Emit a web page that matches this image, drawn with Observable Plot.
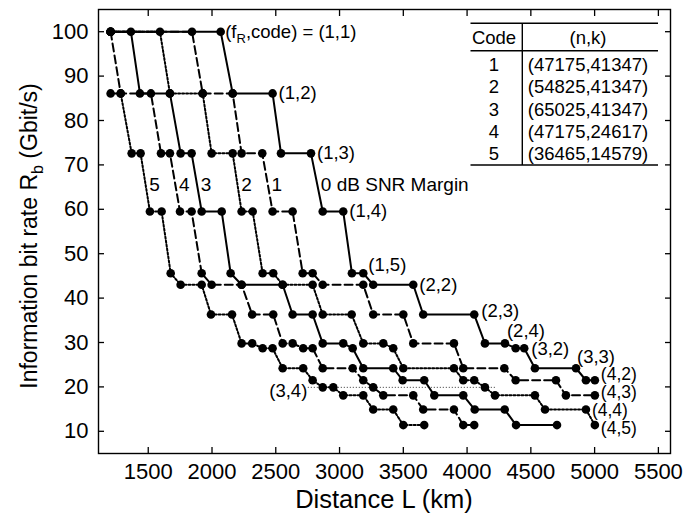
<!DOCTYPE html>
<html>
<head>
<meta charset="utf-8">
<script src="https://cdn.jsdelivr.net/npm/d3@7"></script>
<script src="https://cdn.jsdelivr.net/npm/@observablehq/plot@0.6"></script>
<style>
html,body{margin:0;padding:0;background:#fff;}
#chart svg{display:block;}
</style>
</head>
<body>
<div id="chart"></div>
<script>
// Configuration levels (f_R, code) and their information bit rate (Gbit/s)
const levelNames = ["(1,1)","(1,2)","(1,3)","(1,4)","(1,5)","(2,2)","(2,3)","(2,4)","(3,2)","(3,3)","(4,2)","(3,4)","(4,3)","(4,4)","(4,5)"];
const levelRates = [100, 86.1, 72.6, 59.5, 45.6, 43.0, 36.3, 29.8, 28.7, 24.2, 21.5, 19.9, 18.1, 14.9, 11.4];

// Each step: [level index, first distance (km), last distance (km)]
const margin0dB = [[0,1205,2068],[1,2162,2475],[2,2541,2776],[3,2868,3029],[4,3097,3186],[5,3264,3578],[6,3656,4056],[7,4140,4297],[8,4381,4448],[9,4532,4854],[10,4932,5002]];
const margin1dB = [[0,1205,1843],[1,1927,2162],[2,2232,2394],[3,2475,2632],[4,2711,2789],[5,2868,3186],[6,3264,3500],[7,3578,3897],[9,3970,4292],[10,4381,4697],[12,4775,5002]];
const margin2dB = [[0,1205,1592],[1,1670,1927],[2,1997,2162],[3,2232,2319],[4,2397,2480],[5,2554,2789],[6,2868,3095],[7,3186,3343],[8,3421,3421],[9,3500,3897],[10,3970,4056],[11,4140,4140],[12,4219,4532],[13,4611,4932],[14,5002,5002]];
const margin3dB = [[0,1205,1364],[1,1435,1670],[2,1754,1840],[3,1919,2076],[4,2146,2146],[5,2232,2554],[6,2632,2789],[7,2868,3029],[8,3103,3103],[9,3186,3421],[10,3495,3664],[12,3743,3970],[13,4060,4295],[14,4384,4705]];
const margin4dB = [[0,1205,1205],[1,1284,1521],[2,1600,1670],[3,1749,1840],[4,1919,1919],[5,1997,2232],[6,2315,2480],[7,2554,2632],[8,2715,2789],[9,2868,3103],[10,3186,3186],[11,3264,3264],[12,3343,3578],[13,3656,3897],[14,3970,4056]];
const margin5dB = [[1,1205,1284],[2,1370,1440],[3,1513,1605],[4,1676,1676],[5,1754,1919],[6,1992,2157],[7,2232,2315],[8,2397,2475],[9,2554,2715],[10,2789,2789],[11,2868,2951],[12,3029,3186],[13,3264,3421],[14,3500,3664]];

const marginCurves = [margin0dB, margin1dB, margin2dB, margin3dB, margin4dB, margin5dB];
const marginNames = ["0 dB SNR Margin","1","2","3","4","5"];
const marginStyles = ["solid","dashed","dotted","solid","dashed","dotted"];

// (3,4) reference leader (km range)
const leader34Km = [2755, 4232];

const xTicks = [1500,2000,2500,3000,3500,4000,4500,5000,5500];
const yTicks = [10,20,30,40,50,60,70,80,90,100];

const tableCodes = ["1","2","3","4","5"];
const tableNK = ["(47175,41347)","(54825,41347)","(65025,41347)","(47175,24617)","(36465,14579)"];

// ---- build point table
const pts = [];
marginCurves.forEach((steps, c) => {
  steps.forEach(([lev, a, b]) => {
    pts.push({curve: c, style: marginStyles[c], km: a, rate: levelRates[lev]});
    if (b !== a) pts.push({curve: c, style: marginStyles[c], km: b, rate: levelRates[lev]});
  });
});

const marginLabelPts = marginCurves.map((steps, c) => {
  const s2 = steps.find(s => s[0] === 2), s3 = steps.find(s => s[0] === 3);
  return {t: marginNames[c], km: (s2[2] + s3[1]) / 2, rate: (levelRates[2] + levelRates[3]) / 2};
});

function endOf(steps, lev) {
  const s = steps.find(s => s[0] === lev);
  return {t: levelNames[lev], km: s[2], rate: levelRates[lev]};
}
function lab(d, dx, dy, anchor = "start", size = 18.5) {
  return Plot.text([d], {x: "km", y: "rate", text: "t", dx, dy, textAnchor: anchor, fontSize: size, fill: "black"});
}

const FONT = "'Liberation Sans', Arial, Helvetica, sans-serif";
const fmt = d => String(d);

const plot = Plot.plot({
  width: 695,
  height: 514,
  marginLeft: 98,
  marginRight: 25,
  marginTop: 9,
  marginBottom: 61,
  x: {domain: [1110, 5595]},
  y: {domain: [5, 105]},
  style: {fontFamily: FONT, fontSize: "19px", background: "white", color: "black"},
  marks: [
    Plot.ruleY([levelRates[11]], {x1: leader34Km[0], x2: leader34Km[1], stroke: "#333", strokeWidth: 1, strokeDasharray: "1,2"}),
    Plot.line(pts.filter(d => d.style === "dotted"), {x: "km", y: "rate", z: "curve", stroke: "black", strokeWidth: 2, strokeDasharray: "2,2"}),
    Plot.line(pts.filter(d => d.style === "dashed"), {x: "km", y: "rate", z: "curve", stroke: "black", strokeWidth: 2, strokeDasharray: "8,4"}),
    Plot.line(pts.filter(d => d.style === "solid"), {x: "km", y: "rate", z: "curve", stroke: "black", strokeWidth: 2}),
    Plot.dot(pts, {x: "km", y: "rate", r: 4.3, fill: "black", stroke: "none"}),
    Plot.frame({stroke: "black", strokeWidth: 1.4}),
    Plot.axisX({ticks: xTicks, anchor: "bottom", tickSize: -6, strokeWidth: 1.3, fill: "none", label: null}),
    Plot.axisX({ticks: xTicks, anchor: "top", tickSize: -6, strokeWidth: 1.3, fill: "none", label: null}),
    Plot.axisX({ticks: xTicks, anchor: "bottom", tickSize: 0, tickPadding: 10, stroke: "none", fontSize: 22, tickFormat: fmt, label: null}),
    Plot.axisY({ticks: yTicks, anchor: "left", tickSize: -6, strokeWidth: 1.3, fill: "none", label: null}),
    Plot.axisY({ticks: yTicks, anchor: "right", tickSize: -6, strokeWidth: 1.3, fill: "none", label: null}),
    Plot.axisY({ticks: yTicks, anchor: "left", tickSize: 0, tickPadding: 10, stroke: "none", fontSize: 22, tickFormat: fmt, label: null}),
    // margin labels
    Plot.text(marginLabelPts, {x: "km", y: "rate", text: "t", dx: 4, dy: 2, textAnchor: "start", fontSize: 19, fill: "black"}),
    // configuration labels
    lab(endOf(margin0dB, 1), 6, 0),
    lab(endOf(margin0dB, 2), 6, 0),
    lab(endOf(margin0dB, 3), 6, 0),
    lab(endOf(margin0dB, 4), 5, -8),
    lab(endOf(margin0dB, 5), 6, 0),
    lab(endOf(margin0dB, 6), 7, -3),
    lab(endOf(margin0dB, 7), 2, -12),
    lab(endOf(margin0dB, 8), 7, 1),
    lab(endOf(margin0dB, 9), 1, -11),
    lab(endOf(margin0dB, 10), 6, -6, "start", 17.5),
    lab(endOf(margin1dB, 12), 6, -3, "start", 17.5),
    lab(endOf(margin2dB, 13), 6, 1, "start", 17.5),
    lab(endOf(margin2dB, 14), 6, 3, "start", 17.5),
    lab({t: levelNames[11], km: leader34Km[0], rate: levelRates[11]}, -1, 4, "end")
  ]
});

document.getElementById("chart").appendChild(plot);

// ---- extra text that needs subscripts, axis titles and the code table
const svg = d3.select(plot);
const xs = plot.scale("x"), ys = plot.scale("y");

// (f_R,code) = (1,1)
const first = margin0dB[0];
const t11 = svg.append("text")
  .attr("x", xs.apply(first[2]) + 5)
  .attr("y", ys.apply(levelRates[first[0]]))
  .attr("dy", "0.35em")
  .attr("text-anchor", "start")
  .attr("font-family", FONT).attr("font-size", 18.5).attr("fill", "black");
t11.append("tspan").text("(f");
t11.append("tspan").attr("font-size", 13).attr("dy", 5).text("R");
t11.append("tspan").attr("dy", -5).text(",code) = " + levelNames[0]);

// axis titles
svg.append("text")
  .attr("x", (98 + 670) / 2).attr("y", 499).attr("dy", "0.35em")
  .attr("text-anchor", "middle")
  .attr("font-family", FONT).attr("font-size", 25.5).attr("fill", "black")
  .text("Distance L (km)");

const yt = svg.append("text")
  .attr("transform", "translate(29,236) rotate(-90)")
  .attr("dy", "0.35em")
  .attr("text-anchor", "middle")
  .attr("font-family", FONT).attr("font-size", 23).attr("fill", "black");
yt.append("tspan").text("Information bit rate R");
yt.append("tspan").attr("font-size", 16).attr("dy", 6).text("b");
yt.append("tspan").attr("dy", -6).text(" (Gbit/s)");

// table
const tg = svg.append("g").attr("font-family", FONT).attr("font-size", 18.5).attr("fill", "black");
const tx0 = 470.5, tx1 = 658, tdiv = 522.3, ttop = 23.3, thead = 50.7, tbot = 165;
[[tx0, ttop, tx1, ttop], [tx0, thead, tx1, thead], [tx0, tbot, tx1, tbot], [tdiv, ttop, tdiv, tbot]].forEach(([a, b, c, d]) => {
  tg.append("line").attr("x1", a).attr("y1", b).attr("x2", c).attr("y2", d).attr("stroke", "black").attr("stroke-width", 1.4);
});
tg.append("text").attr("x", 494).attr("y", 38).attr("dy", "0.35em").attr("text-anchor", "middle").text("Code");
tg.append("text").attr("x", 588).attr("y", 38).attr("dy", "0.35em").attr("text-anchor", "middle").text("(n,k)");
tableCodes.forEach((c, i) => {
  const yy = 64.5 + i * 22.3;
  tg.append("text").attr("x", 494).attr("y", yy).attr("dy", "0.35em").attr("text-anchor", "middle").text(c);
  tg.append("text").attr("x", 588).attr("y", yy).attr("dy", "0.35em").attr("text-anchor", "middle").text(tableNK[i]);
});
</script>
</body>
</html>
